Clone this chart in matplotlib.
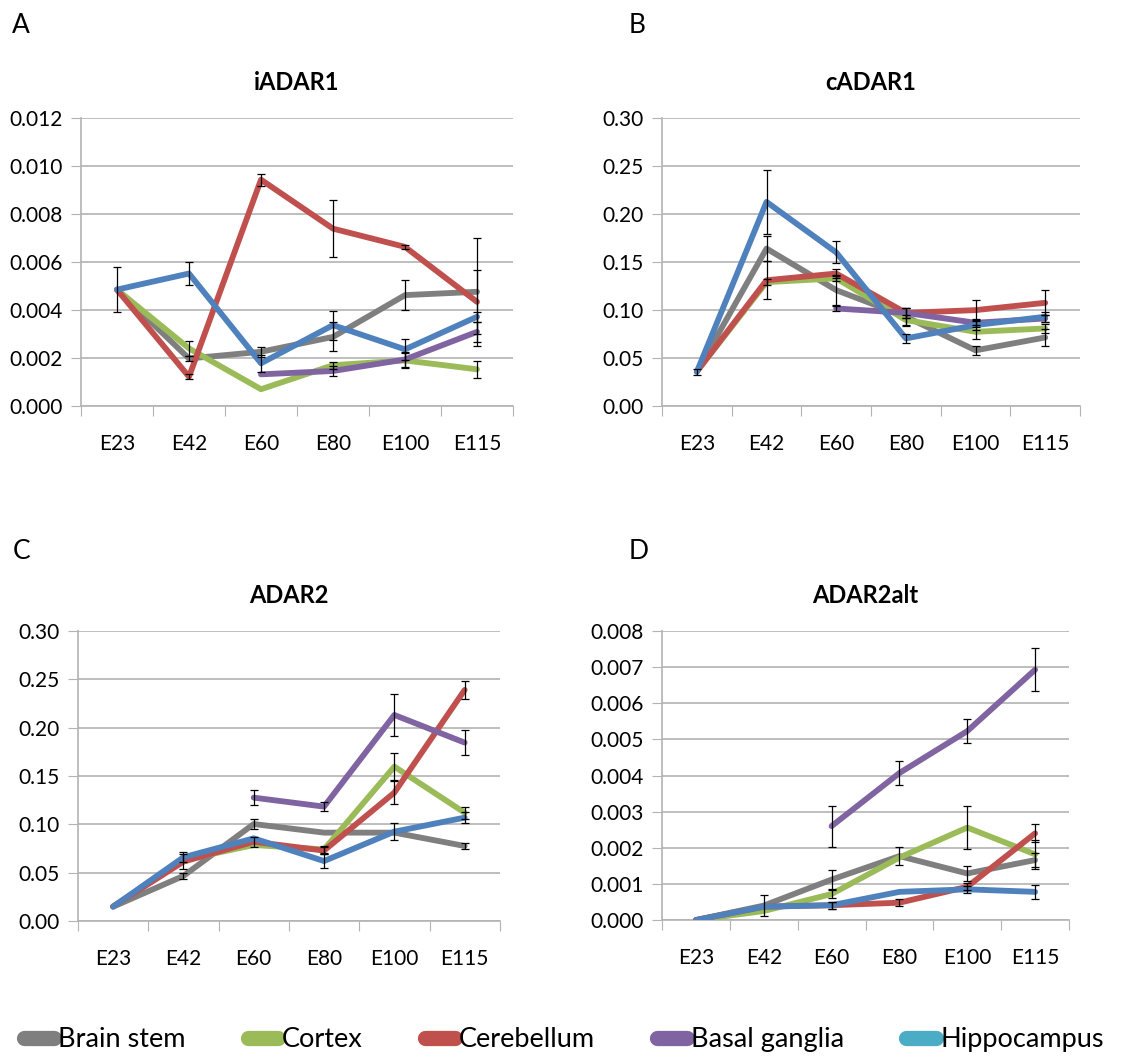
import numpy as np
import matplotlib
matplotlib.use('Agg')
import matplotlib.pyplot as plt
from matplotlib.lines import Line2D

plt.rcParams['font.family'] = ['Lato', 'DejaVu Sans']

# Stages and tissues
stages = ['E23', 'E42', 'E60', 'E80', 'E100', 'E115']
tissues = ['Brain stem', 'Cortex', 'Cerebellum', 'Basal ganglia', 'Hippocampus']
line_colors = ['#7F7F7F', '#9BBB59', '#C0504D', '#8064A2', '#4F81BD']
legend_colors = ['#7F7F7F', '#9BBB59', '#C0504D', '#8064A2', '#4BACC6']
nan = np.nan

# iADAR1 expression (mean, error) per tissue
iadar1_brainstem = [0.00485, 0.00198, 0.00226, 0.00288, 0.00462, 0.00476]
iadar1_cortex = [0.00485, 0.0024, 0.0007, 0.0017, 0.0019, 0.00153]
iadar1_cerebellum = [0.00485, 0.00122, 0.00943, 0.00739, 0.00663, 0.00434]
iadar1_basal = [nan, nan, 0.00132, 0.00146, 0.00194, 0.00309]
iadar1_hippo = [0.00485, 0.00552, 0.00178, 0.00337, 0.00236, 0.00372]
iadar1_brainstem_err = [nan, 0.0001, 0.0002, 0.0006, 0.00062, 0.00226]
iadar1_cortex_err = [nan, 0.0003, nan, 0.00015, 0.0003, 0.00035]
iadar1_cerebellum_err = [nan, 0.0001, 0.00025, 0.00119, 0.00008, 0.00134]
iadar1_basal_err = [nan, nan, nan, 0.0002, 0.0003, 0.00042]
iadar1_hippo_err = [0.00095, 0.00046, 0.00035, 0.0006, 0.00045, 0.0002]

# cADAR1
cadar1_brainstem = [0.0357, 0.164, 0.1207, 0.093, 0.058, 0.0714]
cadar1_cortex = [0.036, 0.129, 0.133, 0.0895, 0.0773, 0.0808]
cadar1_cerebellum = [0.036, 0.131, 0.138, 0.097, 0.0999, 0.1075]
cadar1_basal = [nan, nan, 0.1016, 0.097, 0.0867, 0.0912]
cadar1_hippo = [0.0357, 0.2126, 0.16, 0.0704, 0.0843, 0.093]
cadar1_brainstem_err = [nan, 0.0128, 0.015, 0.0095, 0.005, 0.009]
cadar1_cortex_err = [nan, 0.003, 0.003, 0.005, 0.007, 0.005]
cadar1_cerebellum_err = [nan, 0.02, 0.005, 0.005, 0.011, 0.013]
cadar1_basal_err = [nan, nan, 0.003, 0.005, 0.004, 0.004]
cadar1_hippo_err = [0.003, 0.0337, 0.0115, 0.005, 0.005, 0.005]

# ADAR2
adar2_brainstem = [0.0148, 0.0466, 0.1003, 0.0914, 0.0914, 0.0776]
adar2_cortex = [0.015, 0.063, 0.0786, 0.074, 0.1597, 0.112]
adar2_cerebellum = [0.015, 0.0614, 0.082, 0.0728, 0.1328, 0.239]
adar2_basal = [nan, nan, 0.1276, 0.1183, 0.2131, 0.1845]
adar2_hippo = [0.0148, 0.0659, 0.0855, 0.062, 0.0924, 0.1069]
adar2_brainstem_err = [nan, 0.003, 0.005, nan, nan, 0.003]
adar2_cortex_err = [nan, nan, nan, 0.004, 0.014, 0.006]
adar2_cerebellum_err = [nan, 0.008, 0.005, 0.004, 0.012, 0.009]
adar2_basal_err = [nan, nan, 0.0074, 0.005, 0.022, 0.013]
adar2_hippo_err = [nan, 0.005, nan, 0.007, 0.009, 0.006]

# ADAR2alt
adar2alt_brainstem = [0.0, 0.0004, 0.00112, 0.00177, 0.00129, 0.00166]
adar2alt_cortex = [0.0, 0.00025, 0.00072, 0.00173, 0.00256, 0.00182]
adar2alt_cerebellum = [0.0, 0.00037, 0.00041, 0.00048, 0.00092, 0.0024]
adar2alt_basal = [nan, nan, 0.0026, 0.00407, 0.00523, 0.00693]
adar2alt_hippo = [0.0, 0.00037, 0.00041, 0.00078, 0.00085, 0.00078]
adar2alt_brainstem_err = [nan, 0.0003, 0.00027, 0.00025, 0.0002, 0.0002]
adar2alt_cortex_err = [nan, nan, 0.0001, nan, 0.0006, 0.0004]
adar2alt_cerebellum_err = [nan, nan, 0.0001, 0.0001, 0.0001, 0.00025]
adar2alt_basal_err = [nan, nan, 0.00057, 0.00032, 0.00034, 0.00059]
adar2alt_hippo_err = [nan, nan, 0.0001, nan, 0.0001, 0.0002]

panels = [
    ('A', 'iADAR1', [iadar1_brainstem, iadar1_cortex, iadar1_cerebellum, iadar1_basal, iadar1_hippo],
     [iadar1_brainstem_err, iadar1_cortex_err, iadar1_cerebellum_err, iadar1_basal_err, iadar1_hippo_err],
     np.arange(0, 0.0121, 0.002), '{:.3f}', [0.0718, 0.6184, 0.383, 0.2707]),
    ('B', 'cADAR1', [cadar1_brainstem, cadar1_cortex, cadar1_cerebellum, cadar1_basal, cadar1_hippo],
     [cadar1_brainstem_err, cadar1_cortex_err, cadar1_cerebellum_err, cadar1_basal_err, cadar1_hippo_err],
     np.arange(0, 0.301, 0.05), '{:.2f}', [0.5869, 0.6184, 0.3706, 0.2707]),
    ('C', 'ADAR2', [adar2_brainstem, adar2_cortex, adar2_cerebellum, adar2_basal, adar2_hippo],
     [adar2_brainstem_err, adar2_cortex_err, adar2_cerebellum_err, adar2_basal_err, adar2_hippo_err],
     np.arange(0, 0.301, 0.05), '{:.2f}', [0.0691, 0.1344, 0.374, 0.2726]),
    ('D', 'ADAR2alt', [adar2alt_brainstem, adar2alt_cortex, adar2alt_cerebellum, adar2alt_basal, adar2alt_hippo],
     [adar2alt_brainstem_err, adar2alt_cortex_err, adar2alt_cerebellum_err, adar2alt_basal_err, adar2alt_hippo_err],
     np.arange(0, 0.0081, 0.001), '{:.3f}', [0.5869, 0.1353, 0.3608, 0.2716]),
]

fig = plt.figure(figsize=(11.28, 10.64), dpi=100)
x = np.arange(len(stages))
grid_c = '#B3B3B3'

for letter, title, series, errors, yticks, fmt, rect in panels:
    ax = fig.add_axes(rect)
    for vals, errs, col in zip(series, errors, line_colors):
        vals = np.array(vals, dtype=float)
        errs = np.array(errs, dtype=float)
        ax.plot(x, vals, color=col, lw=4.2, solid_capstyle='round', solid_joinstyle='round', zorder=3)
        m = ~np.isnan(errs) & ~np.isnan(vals)
        ax.errorbar(x[m], vals[m], yerr=errs[m], fmt='none', ecolor='black',
                    elinewidth=0.9, capsize=3, capthick=0.9, zorder=4)
    ax.set_xlim(-0.5, len(stages) - 0.5)
    ax.set_ylim(yticks[0], yticks[-1])
    ax.set_yticks(yticks)
    ax.set_yticklabels([fmt.format(v) for v in yticks], fontsize=15)
    ax.set_xticks(np.arange(-0.5, len(stages), 1.0))
    ax.set_xticklabels([])
    ax.set_xticks(x, minor=True)
    ax.set_xticklabels(stages, minor=True, fontsize=15)
    ax.tick_params(axis='x', which='minor', length=0, pad=20)
    ax.tick_params(axis='x', which='major', length=7, color=grid_c, direction='out')
    ax.tick_params(axis='y', length=7, color=grid_c, direction='out', pad=6)
    ax.grid(axis='y', color=grid_c, lw=1.2)
    ax.set_axisbelow(True)
    for s in ['top', 'right']:
        ax.spines[s].set_visible(False)
    for s in ['left', 'bottom']:
        ax.spines[s].set_color(grid_c)
        ax.spines[s].set_linewidth(1.2)
    ax.set_title(title, fontsize=17, fontweight='bold', pad=20)
    fx = 0.011 if rect[0] < 0.5 else 0.557
    top_row = rect[1] > 0.5
    fy = rect[1] + rect[3] + (0.087 if top_row else 0.075)
    fig.text(fx, fy, letter, fontsize=19, va='center')

handles = [Line2D([0], [0], color=c, lw=11, solid_capstyle='round') for c in legend_colors]
fig.legend(handles, tissues, loc='center', bbox_to_anchor=(0.5, 0.023), ncol=5, frameon=False,
           fontsize=19.5, handlelength=1.1, handletextpad=0.15, columnspacing=2.3)

fig.savefig('out.png', dpi=100, facecolor='white')
